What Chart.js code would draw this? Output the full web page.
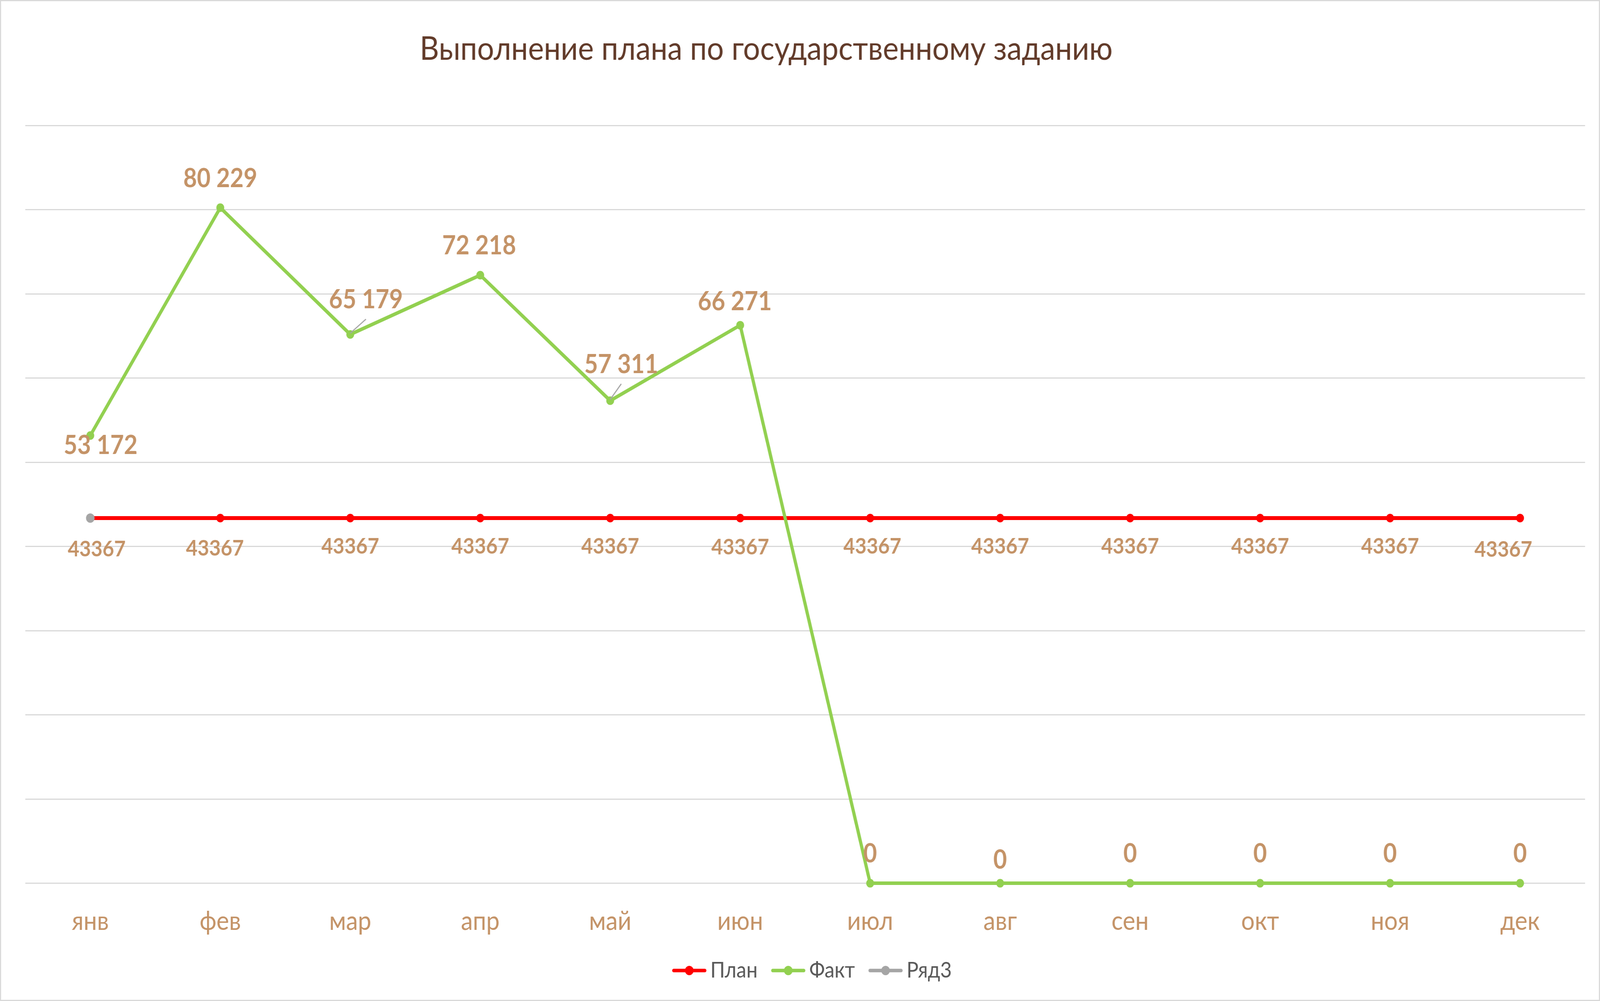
<!DOCTYPE html>
<html>
<head>
<meta charset="utf-8">
<script src="https://cdn.jsdelivr.net/npm/chart.js@4.4.0/dist/chart.umd.min.js"></script>
<style>
html,body{margin:0;padding:0;background:#fff;overflow:hidden;}
canvas{display:block;}
</style>
</head>
<body>
<canvas id="c" width="4491" height="2562" style="width:100vw;height:100vh;"></canvas>
<script>
// ---- data ----
const chartTitle = 'Выполнение плана по государственному заданию';
const months = ['янв','фев','мар','апр','май','июн','июл','авг','сен','окт','ноя','дек'];
const seriesNames = ['План','Факт','Ряд3'];
const planValues  = [43367,43367,43367,43367,43367,43367,43367,43367,43367,43367,43367,43367];
const factValues  = [53172,80229,65179,72218,57311,66271,0,0,0,0,0,0];
const ryad3Values = [43367,null,null,null,null,null,null,null,null,null,null,null];
const yMin = 0, yMax = 90000, yStep = 10000;

// ---- label placement (styling, px offsets from the point) ----
const factLabelDX = [29,0,44,-3,31,-15,0,0,0,0,0,0];
const factLabelDY = [26,-74,-88,-75,-92,-60,-75,-59,-75,-75,-75,-75];
const factLeader  = [false,false,true,false,true,false,false,false,false,false,false,false];
const planLabelDX = [18,-15,0,0,0,0,6,0,0,0,0,-47];
const planLabelDY = [80,78,73,73,73,75,73,73,73,73,73,81];

const COL_PLAN = '#FF0000', COL_FACT = '#92D050', COL_R3 = '#A5A5A5';
const COL_LABEL = '#C49367', COL_TITLE = '#623B2A', COL_GRID = '#D9D9D9';
const FONT = 'Lato';

function fmtSpace(v){ return String(v).replace(/\B(?=(\d{3})+(?!\d))/g,' '); }

// legend symbol: line + marker, drawn in the right part of a wider image
function legendImage(color){
  const cv = document.createElement('canvas');
  cv.width = 200; cv.height = 28;
  const g = cv.getContext('2d');
  g.strokeStyle = color; g.lineWidth = 9; g.lineCap = 'round';
  g.beginPath(); g.moveTo(84,14); g.lineTo(171,14); g.stroke();
  g.fillStyle = color; g.beginPath(); g.arc(127.5,14,12,0,Math.PI*2); g.fill();
  return cv;
}
const legendImgs = [legendImage(COL_PLAN), legendImage(COL_FACT), legendImage(COL_R3)];

const bgBorder = {
  id:'bgBorder',
  beforeDraw(chart){
    const c = chart.ctx; c.save(); c.fillStyle='#fff'; c.fillRect(0,0,chart.width,chart.height); c.restore();
  },
  afterDraw(chart){
    const c = chart.ctx; c.save(); c.strokeStyle=COL_GRID; c.lineWidth=3;
    c.strokeRect(1.5,1.5,chart.width-3,chart.height-3); c.restore();
  }
};

const titlePlugin = {
  id:'titleText',
  afterDraw(chart){
    const c = chart.ctx, a = chart.chartArea;
    c.save();
    c.font = '400 84px ' + FONT;
    c.fillStyle = COL_TITLE; c.textAlign='center'; c.textBaseline='middle';
    c.fillText(chartTitle, a.left + a.width*0.475, 126);
    c.restore();
  }
};

const labelsPlugin = {
  id:'pointLabels',
  afterDatasetsDraw(chart){
    const c = chart.ctx;
    c.save();
    c.textAlign='center'; c.textBaseline='middle'; c.fillStyle=COL_LABEL;
    const pm = chart.getDatasetMeta(0);
    c.font = 'bold 56px ' + FONT;
    pm.data.forEach((pt,i)=>{
      if (planValues[i]==null) return;
      c.fillText(String(planValues[i]), pt.x + planLabelDX[i], pt.y + planLabelDY[i]);
    });
    const fm = chart.getDatasetMeta(1);
    c.font = 'bold 66px ' + FONT;
    fm.data.forEach((pt,i)=>{
      if (factValues[i]==null) return;
      const lx = pt.x + factLabelDX[i], ly = pt.y + factLabelDY[i];
      if (factLeader[i]) {
        c.save(); c.strokeStyle='#A6A6A6'; c.lineWidth=3;
        c.beginPath(); c.moveTo(pt.x, pt.y-3); c.lineTo(lx, ly+49); c.stroke(); c.restore();
      }
      c.fillText(fmtSpace(factValues[i]), lx, ly);
    });
    c.restore();
  }
};

new Chart(document.getElementById('c'), {
  type:'line',
  data:{
    labels: months,
    datasets:[
      { label: seriesNames[0], data: planValues, borderColor: COL_PLAN, backgroundColor: COL_PLAN,
        borderWidth:10, pointRadius:11, pointBorderWidth:0, pointBackgroundColor: COL_PLAN, tension:0, order:2, clip:false },
      { label: seriesNames[1], data: factValues, borderColor: COL_FACT, backgroundColor: COL_FACT,
        borderWidth:9, pointRadius:11, pointBorderWidth:0, pointBackgroundColor: COL_FACT, tension:0, order:1, clip:false },
      { label: seriesNames[2], data: ryad3Values, borderColor: COL_R3, backgroundColor: COL_R3,
        borderWidth:9, pointRadius:12, pointBorderWidth:0, pointBackgroundColor: COL_R3, tension:0, order:0, clip:false }
    ]
  },
  options:{
    responsive:false, animation:false, devicePixelRatio:1,
    layout:{ padding:{ top:321, left:71, right:42, bottom:40 } },
    plugins:{
      title:{display:false},
      tooltip:{enabled:false},
      legend:{
        display:true, position:'bottom',
        labels:{
          usePointStyle:true, pointStyleWidth:117, padding:0,
          color:'#595959', font:{family:FONT, size:56},
          generateLabels(chart){
            const items = Chart.defaults.plugins.legend.labels.generateLabels(chart);
            items.sort((a,b)=>a.datasetIndex-b.datasetIndex);
            items.forEach(it=>{ it.pointStyle = legendImgs[it.datasetIndex]; it.fontColor='#595959'; });
            return items;
          }
        }
      }
    },
    scales:{
      x:{
        offset:true,
        grid:{display:false, drawTicks:false},
        border:{display:false},
        ticks:{color:COL_LABEL, font:{family:FONT, size:67}, padding:57.5, maxRotation:0, autoSkip:false}
      },
      y:{
        min:yMin, max:yMax,
        grid:{color:COL_GRID, lineWidth:3, drawTicks:false},
        border:{display:false},
        ticks:{display:false, stepSize:yStep}
      }
    }
  },
  plugins:[bgBorder, titlePlugin, labelsPlugin]
});
</script>
</body>
</html>
